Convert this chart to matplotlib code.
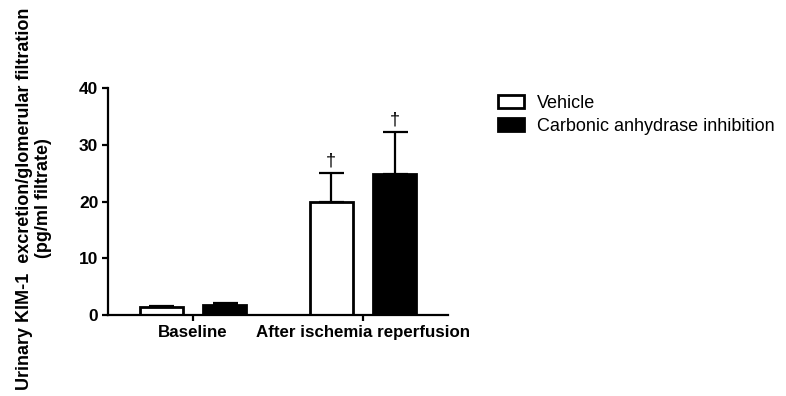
import matplotlib
matplotlib.use("Agg")
import matplotlib.pyplot as plt
from matplotlib.patches import Patch
import numpy as np

plt.rcParams['font.family'] = ['Liberation Sans', 'DejaVu Sans']

groups = ["Baseline", "After ischemia reperfusion"]
series = ["Vehicle", "Carbonic anhydrase inhibition"]
vehicle = [1.4, 20.0]
vehicle_err = [0.15, 5.1]
cai = [1.8, 24.8]
cai_err = [0.25, 7.5]
marks = ["", "\u2020"]

fig = plt.figure(figsize=(7.86, 3.96), dpi=100)
ax = fig.add_axes([0.1374, 0.2045, 0.4326, 0.5733])

x = np.arange(len(groups))
w = 0.253
off = 0.187
lw = 2.0
ek = dict(ecolor='black', elinewidth=1.6, capsize=9, capthick=1.6)
ax.bar(x - off, vehicle, w, color='white', edgecolor='black', linewidth=lw,
       yerr=[np.zeros(len(x)), vehicle_err], error_kw=ek, zorder=2)
ax.bar(x + off, cai, w, color='black', edgecolor='black', linewidth=lw,
       yerr=[np.zeros(len(x)), cai_err], error_kw=ek, zorder=2)

for i in range(len(x)):
    if marks[i]:
        ax.text(x[i] - off, vehicle[i] + vehicle_err[i] + 0.6, marks[i],
                ha='center', va='bottom', fontsize=13)
        ax.text(x[i] + off, cai[i] + cai_err[i] + 0.6, marks[i],
                ha='center', va='bottom', fontsize=13)

ax.set_xlim(-0.5, 1.5)
ax.set_ylim(0, 40)
ax.set_yticks([0, 10, 20, 30, 40])
ax.set_xticks(x)
ax.set_xticklabels(groups, fontsize=12.2, fontweight='bold')
for lab in ax.get_yticklabels():
    lab.set_fontsize(12.5)
    lab.set_fontweight('bold')
for s in ['top', 'right']:
    ax.spines[s].set_visible(False)
for s in ['left', 'bottom']:
    ax.spines[s].set_linewidth(1.6)
ax.tick_params(axis='both', width=1.6, length=4, direction='out', pad=3)

fig.text(0.043, 0.499, "Urinary KIM-1  excretion/glomerular filtration\n(pg/ml filtrate)",
         rotation=90, ha='center', va='center', multialignment='center',
         fontsize=13, fontweight='bold', linespacing=1.15)

handles = [Patch(facecolor='white', edgecolor='black', linewidth=2),
           Patch(facecolor='black', edgecolor='black', linewidth=2)]
fig.legend(handles, series, loc='upper left', bbox_to_anchor=(0.624, 0.778),
           frameon=False, fontsize=13, handlelength=1.45, handleheight=0.75,
           handletextpad=0.75, labelspacing=0.3, borderaxespad=0)

fig.savefig("out.png", dpi=100)
